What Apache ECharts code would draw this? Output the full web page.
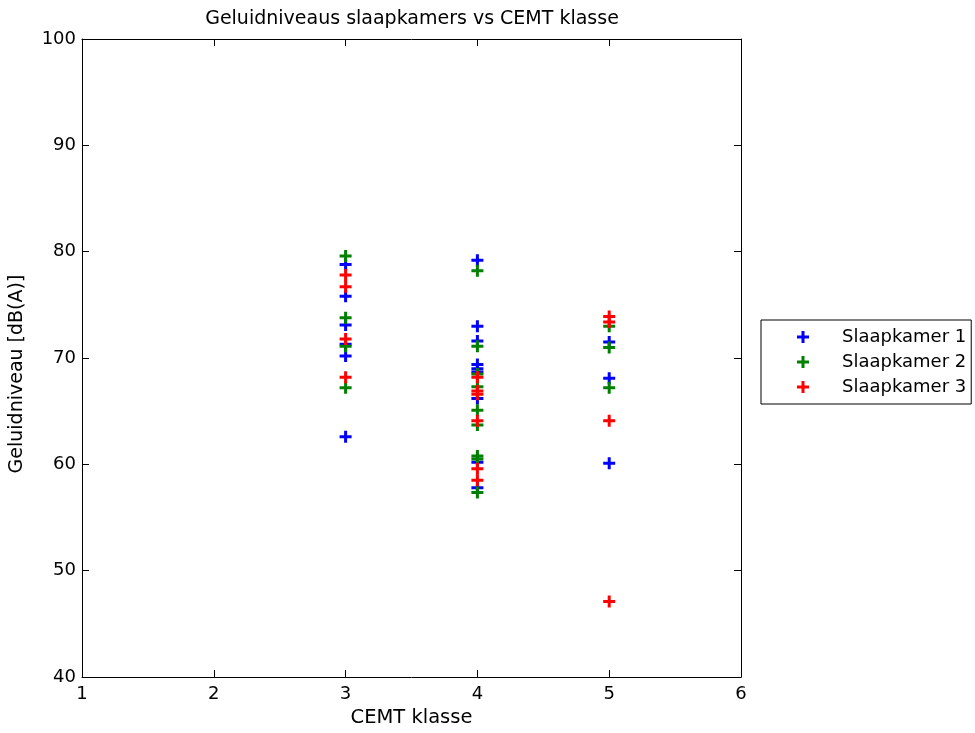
<!DOCTYPE html>
<html>
<head>
<meta charset="utf-8">
<script src="https://cdn.jsdelivr.net/npm/echarts@6/dist/echarts.min.js"></script>
<style>
html,body{margin:0;padding:0;background:#fff;}
#chart{width:975px;height:733px;}
</style>
</head>
<body>
<div id="chart"></div>
<script>
// ---- data ----
const chartTitle = 'Geluidniveaus slaapkamers vs CEMT klasse';
const xName = 'CEMT klasse';
const yName = 'Geluidniveau [dB(A)]';
const roomNames = ['Slaapkamer 1', 'Slaapkamer 2', 'Slaapkamer 3'];
const roomColors = ['#0000ff', '#008000', '#ff0000'];

// Slaapkamer 1 values per CEMT klasse
const sk1_k3 = [78.8, 75.8, 73.1, 71.3, 70.2, 62.6];
const sk1_k4 = [79.2, 73.0, 71.6, 69.4, 69.0, 68.7, 66.2, 60.2, 57.8];
const sk1_k5 = [71.5, 68.1, 60.1];
// Slaapkamer 2
const sk2_k3 = [79.6, 73.8, 71.1, 67.2];
const sk2_k4 = [78.2, 71.1, 68.5, 67.3, 65.1, 63.7, 60.8, 60.5, 57.35];
const sk2_k5 = [73.0, 71.0, 67.2];
// Slaapkamer 3
const sk3_k3 = [77.8, 76.7, 71.8, 68.2];
const sk3_k4 = [68.2, 66.9, 66.6, 64.1, 59.6, 58.5];
const sk3_k5 = [73.9, 73.4, 64.1, 47.1];

const klassen = [3, 4, 5];

function pts(k3, k4, k5) {
  const out = [];
  [k3, k4, k5].forEach((arr, i) => arr.forEach(v => out.push([klassen[i], v])));
  return out;
}
const roomData = [
  pts(sk1_k3, sk1_k4, sk1_k5),
  pts(sk2_k3, sk2_k4, sk2_k5),
  pts(sk3_k3, sk3_k4, sk3_k5)
];

// ---- chart ----
const FONT = 'DejaVu Sans';
const plus = 'path://M4.5,0 H7.5 V4.5 H12 V7.5 H7.5 V12 H4.5 V7.5 H0 V4.5 H4.5 Z';
const chart = echarts.init(document.getElementById('chart'), null, {renderer: 'canvas'});

const axisCommon = {
  axisLine: {show: true, lineStyle: {color: '#000', width: 1}},
  axisTick: {show: true, inside: true, length: 7, lineStyle: {color: '#000', width: 1}},
  splitLine: {show: false},
};

chart.setOption({
  backgroundColor: '#ffffff',
  animation: false,
  title: {
    text: chartTitle,
    left: 407, top: 5, textAlign: 'center',
    textStyle: {fontFamily: FONT, fontSize: 19, fontWeight: 'normal', color: '#000'}
  },
  grid: {left: 81, right: 234, top: 39, bottom: 54, containLabel: false},
  xAxis: [
    Object.assign({
      type: 'value', min: 1, max: 6, interval: 1, position: 'bottom',
      name: xName, nameLocation: 'middle', nameGap: 29,
      nameTextStyle: {fontFamily: FONT, fontSize: 19.5, color: '#000'},
      axisLabel: {fontFamily: FONT, fontSize: 18, color: '#000', margin: 8}
    }, axisCommon),
    Object.assign({
      type: 'value', min: 1, max: 6, interval: 1, position: 'top',
      axisLabel: {show: false}
    }, axisCommon)
  ],
  yAxis: [
    Object.assign({
      type: 'value', min: 40, max: 100, interval: 10, position: 'left',
      name: yName, nameLocation: 'middle', nameGap: 55,
      nameTextStyle: {fontFamily: FONT, fontSize: 19, color: '#000', padding: [0, 32, 0, 0]},
      axisLabel: {fontFamily: FONT, fontSize: 18, color: '#000', margin: 6}
    }, axisCommon),
    Object.assign({
      type: 'value', min: 40, max: 100, interval: 10, position: 'right',
      axisLabel: {show: false}
    }, axisCommon)
  ],
  legend: {
    orient: 'vertical',
    left: 761, top: 320,
    padding: [8, 5, 8, 36],
    itemWidth: 12, itemHeight: 12, itemGap: 7,
    backgroundColor: '#fff',
    borderColor: '#000', borderWidth: 1,
    selectedMode: false,
    textStyle: {fontFamily: FONT, fontSize: 18, color: '#000', padding: [0, 0, 0, 28]},
    data: roomNames.map((n, i) => ({name: n, icon: plus, itemStyle: {color: roomColors[i]}}))
  },
  series: roomNames.map((n, i) => ({
    name: n,
    type: 'scatter',
    xAxisIndex: 0, yAxisIndex: 0,
    symbol: plus,
    symbolSize: 12,
    itemStyle: {color: roomColors[i], opacity: 1},
    emphasis: {disabled: true},
    data: roomData[i],
    z: 2 + i
  }))
});
</script>
</body>
</html>
